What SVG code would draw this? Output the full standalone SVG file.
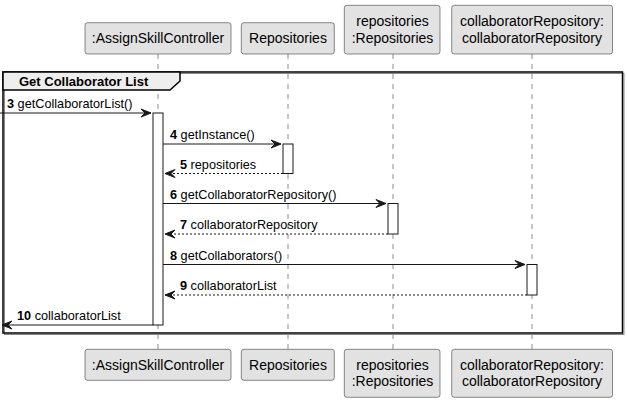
<svg xmlns="http://www.w3.org/2000/svg" width="627" height="403" viewBox="0 0 627 403">
<style>
text{font-family:"Liberation Sans",Arial,sans-serif;fill:#000}
.pbox{fill:#E2E2E2;stroke:#181818;stroke-width:0.5}
.ptxt{font-size:14px;text-anchor:middle}
.life{stroke:#181818;stroke-width:0.5;stroke-dasharray:5,5}
.act{fill:#FFFFFF;stroke:#181818;stroke-width:1}
.msg{stroke:#181818;stroke-width:1;fill:none}
.ret{stroke:#181818;stroke-width:1;fill:none;stroke-dasharray:2,2}
.head{fill:#181818;stroke:#181818;stroke-width:1}
.lbl{font-size:12.7px}
.num{font-weight:bold}
</style>
<g id="lifelines">
<line class="life" x1="158" y1="54" x2="158" y2="349"/>
<line class="life" x1="288" y1="54" x2="288" y2="349"/>
<line class="life" x1="393" y1="54" x2="393" y2="349"/>
<line class="life" x1="532" y1="54" x2="532" y2="349"/>
</g>
<g id="frame">
<rect x="4.5" y="73.5" width="619.5" height="261" fill="none" stroke="#888" stroke-width="1"/>
<rect x="3" y="72" width="619.5" height="261" fill="none" stroke="#000" stroke-width="1.5"/>
<path d="M3,72 L180,72 L180,81 L170,90 L3,90 Z" fill="#EEEEEE" stroke="#000" stroke-width="1.5"/>
<text x="19" y="86" style="font-size:13px;font-weight:bold">Get Collaborator List</text>
</g>
<g id="p_controller">
<rect class="pbox" x="85" y="22.7" width="146" height="31.3" rx="2.5"/>
<text class="ptxt" x="158" y="43">:AssignSkillController</text>
<rect class="pbox" x="85" y="349.3" width="146" height="31" rx="2.5"/>
<text class="ptxt" x="158" y="370">:AssignSkillController</text>
</g>
<g id="p_repositories_class">
<rect class="pbox" x="241.3" y="22.7" width="93" height="31.3" rx="2.5"/>
<text class="ptxt" x="288" y="43">Repositories</text>
<rect class="pbox" x="241.3" y="349.3" width="93" height="31" rx="2.5"/>
<text class="ptxt" x="288" y="370">Repositories</text>
</g>
<g id="p_repositories">
<rect class="pbox" x="344.3" y="5.3" width="95.7" height="48.7" rx="2.5"/>
<text class="ptxt" x="392.5" y="26">repositories</text>
<text class="ptxt" x="392.5" y="42.5">:Repositories</text>
<rect class="pbox" x="344.3" y="349.3" width="95.7" height="48" rx="2.5"/>
<text class="ptxt" x="392.5" y="370">repositories</text>
<text class="ptxt" x="392.5" y="386">:Repositories</text>
</g>
<g id="p_collabRepo">
<rect class="pbox" x="451.7" y="5.3" width="160.8" height="48.7" rx="2.5"/>
<text class="ptxt" x="532" y="26">collaboratorRepository:</text>
<text class="ptxt" x="532" y="42.5">collaboratorRepository</text>
<rect class="pbox" x="451.7" y="349.3" width="160.8" height="48" rx="2.5"/>
<text class="ptxt" x="532" y="370">collaboratorRepository:</text>
<text class="ptxt" x="532" y="386">collaboratorRepository</text>
</g>
<g id="activations">
<rect class="act" x="153" y="113" width="10" height="212"/>
<rect class="act" x="283" y="144" width="10" height="29.5"/>
<rect class="act" x="388" y="203.5" width="10" height="30.5"/>
<rect class="act" x="527" y="264.5" width="10" height="30.5"/>
</g>
<g id="connectors">
<line class="msg" x1="0" y1="113" x2="151" y2="113"/>
<polygon class="head" points="141,109 151,113 141,117 145,113"/>
<line class="msg" x1="163" y1="144" x2="281" y2="144"/>
<polygon class="head" points="271,140 281,144 271,148 275,144"/>
<line class="ret" x1="283" y1="173.5" x2="165" y2="173.5"/>
<polygon class="head" points="175,169.5 165,173.5 175,177.5 171,173.5"/>
<line class="msg" x1="163" y1="203.5" x2="386" y2="203.5"/>
<polygon class="head" points="376,199.5 386,203.5 376,207.5 380,203.5"/>
<line class="ret" x1="388" y1="234" x2="165" y2="234"/>
<polygon class="head" points="175,230 165,234 175,238 171,234"/>
<line class="msg" x1="163" y1="264.5" x2="525" y2="264.5"/>
<polygon class="head" points="515,260.5 525,264.5 515,268.5 519,264.5"/>
<line class="ret" x1="527" y1="295" x2="165" y2="295"/>
<polygon class="head" points="175,291 165,295 175,299 171,295"/>
<line class="msg" x1="153" y1="325" x2="2" y2="325"/>
<polygon class="head" points="12,321 2,325 12,329 8,325"/>
<text class="lbl" x="7" y="108"><tspan class="num">3</tspan> getCollaboratorList()</text>
<text class="lbl" x="170" y="139"><tspan class="num">4</tspan> getInstance()</text>
<text class="lbl" x="180" y="168.5"><tspan class="num">5</tspan> repositories</text>
<text class="lbl" x="170" y="198.5"><tspan class="num">6</tspan> getCollaboratorRepository()</text>
<text class="lbl" x="180" y="229"><tspan class="num">7</tspan> collaboratorRepository</text>
<text class="lbl" x="170" y="259.5"><tspan class="num">8</tspan> getCollaborators()</text>
<text class="lbl" x="180" y="290"><tspan class="num">9</tspan> collaboratorList</text>
<text class="lbl" x="17" y="320"><tspan class="num">10</tspan> collaboratorList</text>
</g>
</svg>
